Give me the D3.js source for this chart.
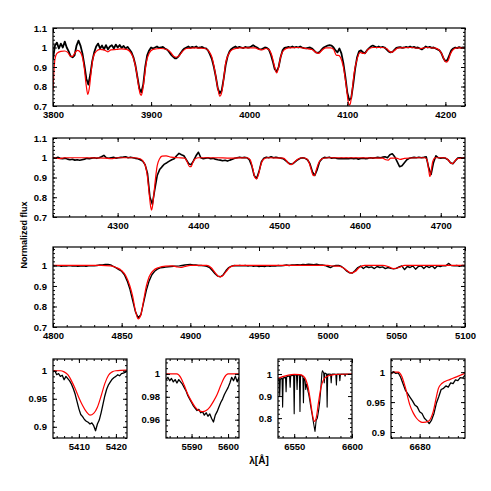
<!DOCTYPE html>
<html>
<head>
<meta charset="utf-8">
<script src="https://cdn.jsdelivr.net/npm/d3@7"></script>
<style>
    body { margin: 0; background: #fff; }
    text { font-family: "Liberation Sans", Arial, sans-serif; }
</style>
</head>
<body>
<div class="container"></div>
<script>
// ---- data ----
// observed spectrum (black), regular grids
let blackGrid1 = d3.range(3800, 4220.5, 2);
let blackFlux1 = [
    0.94, 1.01, 1.025, 0.995, 1.02, 1.0, 1.03, 1.0, 0.98, 0.955,
    0.95, 0.96, 1.01, 1.035, 1.01, 0.97, 0.91, 0.84, 0.81, 0.86,
    0.93, 0.975, 1.005, 1.02, 0.995, 1.01, 0.99, 1.012, 0.99, 1.005,
    1.012, 0.995, 1.015, 1.0, 1.013, 0.998, 1.008, 0.995, 1.003, 0.99,
    0.975, 0.95, 0.91, 0.85, 0.79, 0.77, 0.81, 0.9, 0.96, 0.985,
    1.0, 0.995, 1.0, 1.005, 0.998, 1.0, 1.003, 0.995, 0.99, 0.98,
    0.965, 0.955, 0.945, 0.945, 0.955, 0.97, 0.985, 0.995, 1.0, 1.005,
    0.998, 1.003, 1.0, 1.005, 0.998, 1.0, 1.003, 0.997, 0.995, 0.985,
    0.965, 0.94, 0.9, 0.85, 0.79, 0.765, 0.78, 0.84, 0.91, 0.955,
    0.98, 0.993, 1.0, 1.005, 0.998, 1.003, 1.0, 0.997, 1.003, 1.0,
    1.0, 1.005, 1.012, 1.005, 1.0, 0.992, 0.99, 0.995, 1.0, 0.998,
    0.99, 0.965, 0.93, 0.89, 0.876, 0.9, 0.95, 0.985, 0.998, 1.0,
    1.003, 1.0, 1.005, 1.0, 1.003, 1.0, 1.005, 1.0, 0.997, 0.995,
    0.998, 1.0, 0.995, 0.985, 0.975, 0.972, 0.978, 0.99, 1.0, 1.005,
    1.01, 1.012, 1.01, 1.0, 0.985, 0.975, 0.995, 0.97, 0.92, 0.85,
    0.77, 0.73, 0.74, 0.81, 0.89, 0.95, 0.98, 0.985, 0.975, 0.97,
    0.985, 0.995, 1.005, 1.01, 1.005, 1.0, 1.005, 1.0, 1.003, 1.0,
    0.99, 0.98, 0.975, 0.977, 0.988, 0.998, 1.0, 1.002, 0.998, 1.0,
    1.003, 1.0, 1.005, 1.0, 1.003, 0.998, 1.0, 0.995, 0.99, 0.997,
    1.005, 1.0, 1.003, 0.998, 1.0, 0.995, 0.99, 0.985, 0.97, 0.945,
    0.93, 0.935, 0.96, 0.985, 0.995, 1.0, 0.997, 1.002, 0.998, 1.0,
    1.0
];

let blackGrid2 = d3.range(4220, 4730.5, 3);
let blackFlux2 = [
    1.0, 0.998, 1.002, 0.997, 0.995, 0.998, 0.993, 0.99, 0.992, 0.988,
    0.99, 0.987, 0.99, 0.993, 0.997, 0.995, 0.998, 1.0, 0.997, 1.0,
    1.005, 1.012, 1.0, 0.997, 1.0, 1.002, 0.998, 1.0, 1.002, 1.003,
    1.005, 1.0, 1.003, 1.0, 0.997, 0.995, 0.99, 0.983, 0.965, 0.92,
    0.8, 0.765, 0.84, 0.91, 0.94, 0.955, 0.968, 0.975, 0.983, 0.99,
    0.995, 1.01, 1.022, 1.015, 1.01, 0.99, 0.97, 0.965, 0.985, 1.01,
    1.028, 1.0, 0.995, 0.998, 1.0, 0.995, 0.997, 0.993, 0.99, 0.988,
    0.985, 0.987, 0.983, 0.988, 0.992, 0.997, 1.0, 1.003, 1.0, 1.002,
    1.0, 0.99, 0.96, 0.91, 0.895, 0.93, 0.98, 0.998, 1.003, 1.0,
    1.005, 1.0, 1.003, 1.0, 0.998, 0.995, 0.985, 0.975, 0.968, 0.97,
    0.98, 0.99, 0.997, 1.0, 0.997, 0.99, 0.97, 0.93, 0.91, 0.94,
    0.98, 0.995, 1.002, 1.0, 1.003, 0.998, 1.0, 0.997, 0.995, 0.997,
    0.995, 0.997, 0.995, 0.998, 0.995, 0.997, 0.993, 0.996, 0.998, 0.995,
    0.997, 1.0, 0.998, 1.0, 1.002, 1.0, 1.003, 1.005, 1.0, 1.015,
    1.02, 1.005, 0.98, 0.955, 0.96, 0.975, 0.99, 0.997, 1.0, 1.002,
    1.0, 1.003, 1.0, 1.002, 1.005, 0.95, 0.915, 0.975, 1.01, 1.0,
    0.998, 1.0, 0.997, 0.99, 0.975, 0.97, 0.985, 0.998, 1.0, 0.998,
    1.0
];

let blackGrid3 = d3.range(4800, 5100.5, 2);
let blackFlux3 = [
    1.0, 0.998, 0.999, 0.996, 0.998, 0.997, 0.999, 0.997, 0.998, 0.996,
    0.997, 0.998, 0.996, 0.998, 0.999, 0.998, 1.0, 1.002, 1.003, 1.005,
    1.005, 1.003, 0.995, 0.988, 0.98, 0.972, 0.955, 0.925, 0.885, 0.83,
    0.775, 0.745, 0.76, 0.82, 0.88, 0.925, 0.955, 0.972, 0.982, 0.988,
    0.99, 0.992, 0.994, 0.995, 0.996, 0.997, 0.998, 1.0, 1.002, 1.004,
    1.005, 1.003, 1.002, 1.0, 1.0, 0.998, 0.996, 0.99, 0.975, 0.96,
    0.948, 0.945, 0.955, 0.975, 0.99, 0.997, 1.0, 0.998, 1.0, 0.998,
    1.0, 0.997, 0.999, 0.996, 0.998, 0.995, 0.997, 0.995, 0.998, 0.996,
    0.998, 0.997, 1.0, 0.998, 1.0, 1.002, 1.0, 1.003, 1.002, 1.004,
    1.003, 1.005, 1.004, 1.006, 1.005, 1.004, 1.006, 1.003, 1.002, 1.0,
    0.995, 0.99, 0.997, 1.0, 1.0, 0.995, 0.985, 0.972, 0.964, 0.963,
    0.975, 0.99, 0.997, 0.985, 0.995, 0.99, 0.993, 0.985, 0.995, 0.99,
    0.993, 0.985, 0.99, 0.986, 0.984, 0.986, 0.993, 0.998, 0.98, 0.995,
    0.99, 0.998, 0.982, 0.995, 0.998, 0.985, 0.997, 0.99, 0.998, 0.985,
    0.998, 0.995, 0.999, 0.998, 1.01, 1.0, 0.998, 1.0, 0.996, 1.0,
    1.0
];

let blackGridA = d3.range(5403, 5423.25, 0.5);
let blackFluxA = [
    0.998, 1.0, 0.993, 0.995, 0.99, 0.992, 0.984, 0.99, 0.986, 0.982,
    0.976, 0.968, 0.958, 0.945, 0.932, 0.922, 0.918, 0.913, 0.91, 0.908,
    0.905, 0.907, 0.902, 0.893, 0.905, 0.912, 0.925, 0.94, 0.955, 0.967,
    0.975, 0.98, 0.985, 0.988, 0.99, 0.993, 0.991, 0.995, 0.996, 0.997,
    0.999
];

let blackGridB = d3.range(5583, 5603.25, 0.5);
let blackFluxB = [
    0.995, 0.997, 0.994, 0.996, 0.993, 0.995, 0.992, 0.995, 0.993, 0.991,
    0.988, 0.985, 0.981, 0.978, 0.975, 0.972, 0.97, 0.968, 0.969, 0.966,
    0.967, 0.964, 0.966, 0.963, 0.965, 0.961, 0.958, 0.964, 0.967, 0.971,
    0.975, 0.978, 0.982, 0.985, 0.988, 0.992, 0.997, 0.994, 0.998, 0.993,
    0.997
];

let blackGridC = d3.range(6536, 6600.25, 0.5);
let blackFluxC = [
    0.975, 0.97, 0.978, 0.9, 0.975, 0.98, 0.978, 0.982, 0.85, 0.98,
    0.984, 0.982, 0.986, 0.985, 0.92, 0.987, 0.99, 0.988, 0.99, 0.992,
    0.991, 0.94, 0.993, 0.992, 0.995, 0.993, 0.996, 0.994, 0.82, 0.995,
    0.997, 0.995, 0.996, 0.93, 0.997, 0.995, 0.996, 0.994, 0.83, 0.993,
    0.995, 0.992, 0.99, 0.988, 0.87, 0.982, 0.975, 0.968, 0.93, 0.955,
    0.945, 0.935, 0.92, 0.91, 0.895, 0.88, 0.862, 0.848, 0.832, 0.818,
    0.8, 0.785, 0.77, 0.755, 0.74, 0.765, 0.79, 0.795, 0.8, 0.815,
    0.83, 0.85, 0.87, 0.9, 0.93, 0.97, 1.005, 1.015, 1.01, 1.006,
    0.96, 1.004, 1.003, 1.002, 1.0, 0.85, 1.0, 0.998, 1.0, 0.999,
    1.0, 0.998, 0.96, 0.999, 1.0, 0.998, 1.0, 0.999, 1.0, 0.998,
    0.999, 0.95, 1.0, 0.998, 1.0, 0.999, 1.0, 0.97, 0.999, 1.0,
    0.998, 1.0, 0.999, 1.0, 0.998, 1.0, 0.99, 1.0, 0.999, 1.0,
    0.998, 1.0, 0.999, 1.0, 0.998, 1.0, 0.999, 1.0, 1.0
];

let blackGridD = d3.range(6674, 6689.75, 0.5);
let blackFluxD = [
    0.997, 1.001, 0.998, 0.999, 0.992, 0.981, 0.97, 0.964, 0.958, 0.952,
    0.945, 0.942, 0.934, 0.931, 0.923, 0.919, 0.914, 0.92, 0.931, 0.948,
    0.959, 0.971, 0.973, 0.977, 0.975, 0.982, 0.981, 0.987, 0.986, 0.991,
    0.99, 0.995
];

// model spectrum (red), knots
let redWl1 = [3800, 3801, 3802, 3804, 3808, 3812, 3815, 3818, 3820, 3822, 3825, 3828, 3830, 3832, 3834, 3835.5, 3837, 3839, 3841, 3844,
    3848, 3852, 3856, 3859, 3865, 3870, 3875, 3879, 3882, 3885, 3887, 3889, 3890, 3891, 3893, 3895, 3898, 3902, 3910, 3916,
    3920, 3923, 3926, 3929, 3932, 3936, 3945, 3955, 3959, 3962, 3965, 3968, 3970, 3972, 3974, 3976, 3979, 3983, 3990, 4000,
    4006, 4010, 4013, 4017, 4020, 4023, 4026, 4028, 4030, 4032, 4035, 4040, 4050, 4056, 4060, 4064, 4068, 4071, 4074, 4078,
    4083, 4086, 4089, 4091, 4093, 4096, 4099, 4101, 4102, 4103, 4105, 4107, 4110, 4113, 4116, 4118, 4121, 4126, 4135, 4140,
    4143, 4145, 4148, 4152, 4165, 4175, 4180, 4190, 4194, 4197, 4199, 4201, 4203, 4205, 4208, 4212, 4220];
let redFlux1 = [0.78, 0.88, 0.94, 0.97, 0.98, 0.982, 0.975, 0.955, 0.955, 0.97, 0.985, 0.975, 0.95, 0.89, 0.8, 0.76, 0.79, 0.88, 0.95, 0.98,
    0.99, 0.988, 0.978, 0.988, 0.99, 0.993, 0.99, 0.975, 0.945, 0.88, 0.81, 0.76, 0.755, 0.77, 0.84, 0.92, 0.97, 0.99, 0.995, 0.99,
    0.975, 0.955, 0.95, 0.96, 0.98, 0.995, 0.998, 0.995, 0.98, 0.95, 0.88, 0.79, 0.75, 0.77, 0.84, 0.92, 0.965, 0.99, 0.998, 0.998,
    0.998, 0.99, 0.988, 0.995, 0.99, 0.96, 0.9, 0.87, 0.9, 0.95, 0.985, 0.998, 1.0, 0.997, 0.993, 0.99, 0.975, 0.97, 0.985, 0.998,
    0.998, 0.99, 0.96, 0.96, 0.95, 0.9, 0.8, 0.72, 0.705, 0.71, 0.78, 0.87, 0.94, 0.975, 0.97, 0.97, 0.99, 1.0, 1.0, 0.995,
    0.98, 0.975, 0.985, 0.998, 1.0, 0.995, 1.0, 0.997, 0.985, 0.96, 0.935, 0.925, 0.935, 0.965, 0.99, 0.998, 0.998];

let redWl2 = [4220, 4228, 4235, 4260, 4285, 4292, 4300, 4320, 4328, 4332, 4335, 4337, 4339, 4341, 4342, 4343, 4345, 4347, 4349, 4352,
    4355, 4360, 4366, 4375, 4383, 4386, 4389, 4391, 4393, 4396, 4400, 4420, 4440, 4460, 4464, 4467, 4470, 4472, 4474, 4477,
    4480, 4485, 4505, 4509, 4512, 4515, 4518, 4522, 4528, 4534, 4537, 4540, 4542, 4544, 4546, 4549, 4553, 4560, 4600, 4628,
    4632, 4635, 4638, 4645, 4650, 4655, 4670, 4680, 4683, 4685, 4686.5, 4688, 4690, 4693, 4705, 4709, 4712, 4714, 4717, 4720,
    4730];
let redFlux2 = [1.0, 0.996, 1.0, 1.0, 0.998, 0.995, 1.0, 1.0, 0.995, 0.98, 0.95, 0.9, 0.82, 0.75, 0.735, 0.75, 0.82, 0.9, 0.96, 0.995,
    1.008, 1.01, 1.003, 1.0, 0.998, 0.98, 0.955, 0.955, 0.975, 0.995, 1.0, 1.0, 0.998, 1.0, 0.99, 0.95, 0.9, 0.893, 0.91, 0.96,
    0.99, 1.0, 0.998, 0.985, 0.97, 0.965, 0.975, 0.99, 1.0, 0.995, 0.975, 0.935, 0.91, 0.912, 0.94, 0.975, 0.995, 1.0, 1.0, 0.998,
    0.99, 0.988, 0.998, 0.998, 0.992, 0.997, 1.0, 1.0, 0.99, 0.94, 0.905, 0.93, 0.98, 1.0, 1.0, 0.99, 0.975, 0.97, 0.98, 0.995,
    1.0];

let redWl3 = [4800, 4835, 4842, 4846, 4850, 4853, 4856, 4858, 4860, 4862, 4864, 4866, 4868, 4870, 4873, 4877, 4882, 4887, 4890, 4893,
    4896, 4900, 4912, 4915, 4918, 4921, 4923, 4926, 4929, 4933, 5000, 5005, 5008, 5011, 5014, 5017, 5020, 5023, 5027, 5040,
    5044, 5048, 5052, 5056, 5100];
let redFlux3 = [1.0, 1.0, 0.998, 0.99, 0.975, 0.95, 0.9, 0.85, 0.78, 0.74, 0.76, 0.83, 0.9, 0.945, 0.975, 0.99, 0.997, 0.998, 0.993, 0.99,
    0.995, 1.0, 1.0, 0.99, 0.965, 0.945, 0.947, 0.97, 0.992, 1.0, 1.0, 0.997, 0.997, 0.99, 0.975, 0.963, 0.97, 0.99, 1.0, 1.0,
    0.995, 0.985, 0.99, 1.0, 1.0];

let redWlA = [5403, 5405, 5406, 5407, 5408, 5409, 5410, 5411, 5412, 5413, 5414, 5415, 5416, 5417, 5418, 5419, 5420, 5423];
let redFluxA = [1.0, 1.0, 0.998, 0.993, 0.982, 0.968, 0.952, 0.938, 0.927, 0.921, 0.924, 0.935, 0.955, 0.977, 0.992, 0.998, 1.0, 1.001];

let redWlB = [5583, 5586, 5587, 5588, 5589, 5590, 5591, 5592, 5593, 5594, 5595, 5596, 5597, 5598, 5599, 5600, 5603];
let redFluxB = [1.0, 1.0, 0.997, 0.99, 0.982, 0.976, 0.971, 0.968, 0.967, 0.968, 0.971, 0.976, 0.982, 0.99, 0.997, 1.0, 1.0];

let redWlC = [6536, 6540, 6545, 6550, 6555, 6558, 6560, 6562, 6564, 6566, 6567.5, 6569, 6571, 6573, 6575, 6578, 6582, 6590, 6600];
let redFluxC = [0.98, 0.988, 0.995, 0.998, 0.997, 0.99, 0.975, 0.94, 0.88, 0.81, 0.785, 0.8, 0.87, 0.935, 0.97, 0.988, 0.995, 0.999, 1.0];

let redWlD = [6674, 6674.78, 6675.55, 6676.25, 6676.95, 6677.96, 6678.65, 6679.35, 6680.21, 6680.75, 6681.83, 6682.84, 6683.54, 6683.93, 6684.63, 6686.41, 6687.96, 6689.5];
let redFluxD = [0.998, 1.0, 1.0, 0.993, 0.976, 0.945, 0.932, 0.923, 0.917, 0.916, 0.918, 0.934, 0.96, 0.973, 0.981, 0.988, 0.993, 0.998];

// axis ranges and tick steps per panel
let xDomains = [[3800, 4220], [4220, 4730], [4800, 5100], [5403, 5423], [5583, 5603], [6536, 6600], [6674, 6689.5]];
let yDomains = [[0.7, 1.1], [0.7, 1.1], [0.7, 1.09], [0.88, 1.021], [0.944, 1.013], [0.71, 1.068], [0.89, 1.022]];
let xSteps = [[100, 20], [100, 20], [50, 10], [10, 2], [10, 2], [50, 10], [10, 2]];
let ySteps = [[0.1, 0.02], [0.1, 0.02], [0.1, 0.02], [0.05, 0.01], [0.02, 0.005], [0.1, 0.02], [0.05, 0.01]];

// ---- layout ----
let svg = d3.select(".container").append("svg")
    .attr("width", 491)
    .attr("height", 491);

let boxes = [
    {left: 53, top: 28, w: 412, h: 78},
    {left: 53, top: 138, w: 412, h: 79},
    {left: 53, top: 247, w: 412, h: 80},
    {left: 53, top: 359, w: 74, h: 79},
    {left: 166, top: 359, w: 73, h: 79},
    {left: 278, top: 359, w: 74, h: 79},
    {left: 391, top: 359, w: 74, h: 79}
];
let blackWidth = [1.8, 1.6, 1.4, 1.3, 1.3, 1.1, 1.3];

let blacks = [
    [blackGrid1, blackFlux1], [blackGrid2, blackFlux2], [blackGrid3, blackFlux3],
    [blackGridA, blackFluxA], [blackGridB, blackFluxB], [blackGridC, blackFluxC], [blackGridD, blackFluxD]
];
let reds = [
    [redWl1, redFlux1], [redWl2, redFlux2], [redWl3, redFlux3],
    [redWlA, redFluxA], [redWlB, redFluxB], [redWlC, redFluxC], [redWlD, redFluxD]
];

function tickVals(dom, step) {
    let out = [];
    let k0 = Math.ceil(dom[0] / step - 1e-6), k1 = Math.floor(dom[1] / step + 1e-6);
    for (let k = k0; k <= k1; k++) out.push(+(k * step).toFixed(4));
    return out;
}

let fmt = d => String(+d.toFixed(3));

function styleAxis(sel) {
    sel.select(".domain").remove();
    sel.selectAll("line").attr("stroke", "#000").attr("stroke-width", 1);
    sel.selectAll("text")
        .attr("font-family", "'Liberation Sans', Arial, sans-serif")
        .attr("font-size", 9.5)
        .attr("font-weight", "bold")
        .attr("fill", "#000");
}

boxes.forEach(function (b, i) {
    let x = d3.scaleLinear().domain(xDomains[i]).range([0, b.w]);
    let y = d3.scaleLinear().domain(yDomains[i]).range([b.h, 0]);

    let g = svg.append("g")
        .attr("transform", "translate(" + b.left + "," + b.top + ")");

    svg.append("defs").append("clipPath")
        .attr("id", "clip" + i)
        .append("rect")
        .attr("width", b.w)
        .attr("height", b.h);

    let line = d3.line()
        .x(d => x(d[0]))
        .y(d => y(d[1]));

    g.append("path")
        .datum(d3.zip(blacks[i][0], blacks[i][1]))
        .attr("clip-path", "url(#clip" + i + ")")
        .attr("fill", "none")
        .attr("stroke", "#000")
        .attr("stroke-width", blackWidth[i])
        .attr("stroke-linejoin", "round")
        .attr("d", line);

    g.append("path")
        .datum(d3.zip(reds[i][0], reds[i][1]))
        .attr("clip-path", "url(#clip" + i + ")")
        .attr("fill", "none")
        .attr("stroke", "#ff0000")
        .attr("stroke-width", 1.2)
        .attr("d", line.curve(d3.curveMonotoneX));

    let xMaj = tickVals(xDomains[i], xSteps[i][0]),
        xMin = tickVals(xDomains[i], xSteps[i][1]),
        yMaj = tickVals(yDomains[i], ySteps[i][0]),
        yMin = tickVals(yDomains[i], ySteps[i][1]);

    // minor ticks, all four sides
    g.append("g").attr("transform", "translate(0," + b.h + ")")
        .call(d3.axisBottom(x).tickValues(xMin).tickSize(-2).tickSizeOuter(0).tickFormat("")).call(styleAxis);
    g.append("g")
        .call(d3.axisTop(x).tickValues(xMin).tickSize(-2).tickSizeOuter(0).tickFormat("")).call(styleAxis);
    g.append("g")
        .call(d3.axisLeft(y).tickValues(yMin).tickSize(-2).tickSizeOuter(0).tickFormat("")).call(styleAxis);
    g.append("g").attr("transform", "translate(" + b.w + ",0)")
        .call(d3.axisRight(y).tickValues(yMin).tickSize(-2).tickSizeOuter(0).tickFormat("")).call(styleAxis);

    // major ticks with labels on bottom and left
    g.append("g").attr("transform", "translate(0," + b.h + ")")
        .call(d3.axisBottom(x).tickValues(xMaj).tickSize(-4).tickSizeOuter(0).tickPadding(5).tickFormat(fmt)).call(styleAxis);
    g.append("g")
        .call(d3.axisTop(x).tickValues(xMaj).tickSize(-4).tickSizeOuter(0).tickFormat("")).call(styleAxis);
    g.append("g")
        .call(d3.axisLeft(y).tickValues(yMaj).tickSize(-4).tickSizeOuter(0).tickPadding(6).tickFormat(fmt)).call(styleAxis);
    g.append("g").attr("transform", "translate(" + b.w + ",0)")
        .call(d3.axisRight(y).tickValues(yMaj).tickSize(-4).tickSizeOuter(0).tickFormat("")).call(styleAxis);

    g.append("rect")
        .attr("width", b.w)
        .attr("height", b.h)
        .attr("fill", "none")
        .attr("stroke", "#000")
        .attr("stroke-width", 1.2);
});

svg.append("text")
    .attr("transform", "translate(27,235) rotate(-90)")
    .attr("text-anchor", "middle")
    .attr("font-size", 9)
    .attr("font-weight", "bold")
    .text("Normalized flux");

svg.append("text")
    .attr("x", 259)
    .attr("y", 464)
    .attr("text-anchor", "middle")
    .attr("font-size", 10)
    .attr("font-weight", "bold")
    .text("λ[Å]");
</script>
</body>
</html>
